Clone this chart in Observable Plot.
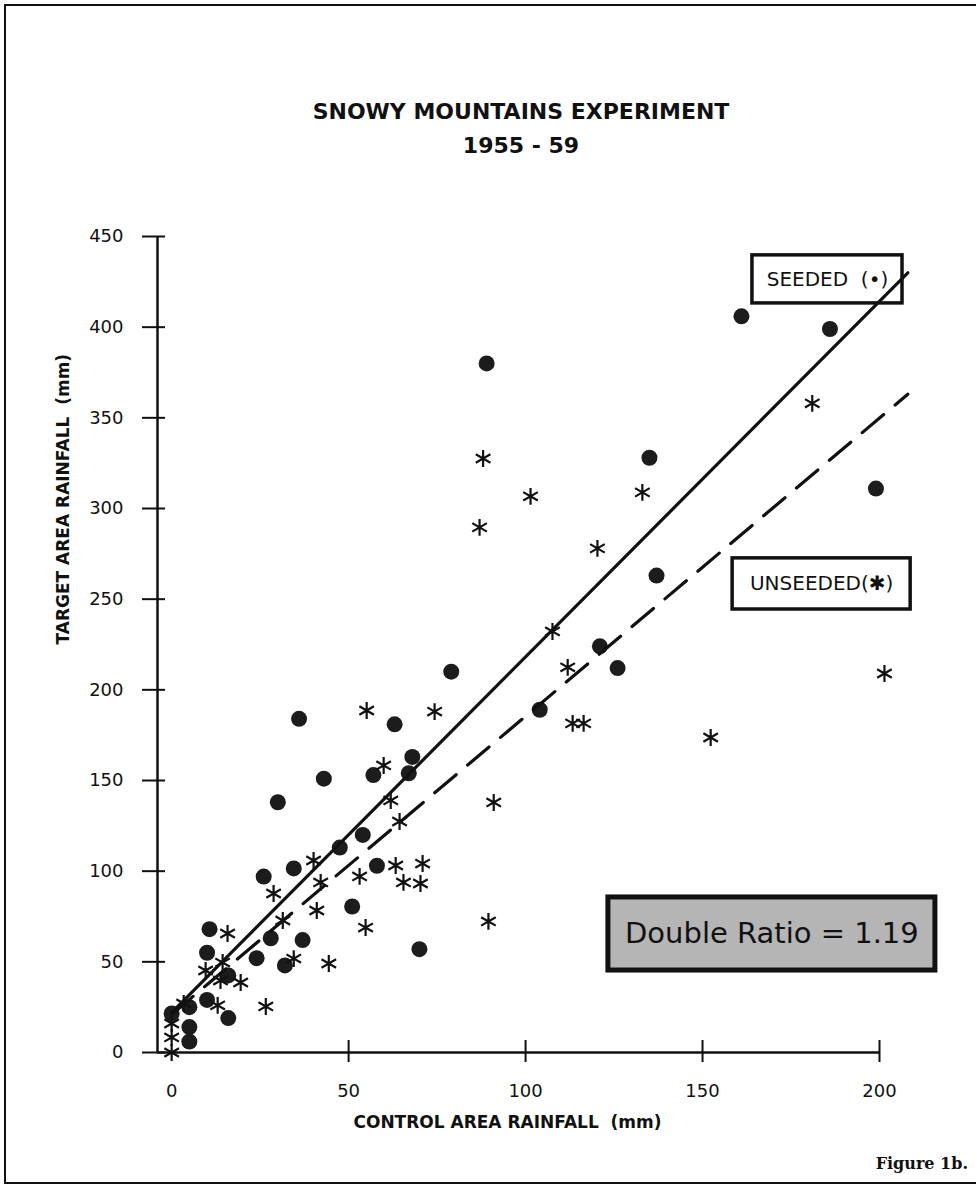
<!DOCTYPE html>
<html><head><meta charset="utf-8">
<script src="https://cdn.jsdelivr.net/npm/d3@7"></script>
<script src="https://cdn.jsdelivr.net/npm/@observablehq/plot@0.6"></script>
<style>
html,body{margin:0;padding:0;background:#fff;}
#page{position:relative;width:976px;height:1192px;overflow:hidden;font-family:"DejaVu Sans",sans-serif;color:#111;}
#frame{position:absolute;left:4px;top:4px;width:1000px;height:1180px;border:2px solid #111;box-sizing:border-box;pointer-events:none;}
#header{position:relative;height:180px;}
.t{position:absolute;left:521px;transform:translateX(-50%);font-weight:bold;white-space:nowrap;font-size:22px;line-height:22px;}
#t1{top:101px;}
#t2{top:135px;}
#chart svg{display:block;}
#footer{position:relative;height:42px;}
#fig{position:absolute;right:8px;top:6px;font-family:"DejaVu Serif",serif;font-weight:bold;font-size:16px;line-height:16px;}
</style></head>
<body>
<div id="page">
  <div id="frame"></div>
  <div id="header"><div class="t" id="t1">SNOWY MOUNTAINS EXPERIMENT</div><div class="t" id="t2">1955 - 59</div></div>
  <div id="chart"></div>
  <div id="footer"><div id="fig">Figure 1b.</div></div>
</div>
<script>
// Seeded cases (filled circles): [control rainfall, target rainfall] in mm
const seeded = [
  [161,406],[186,399],[199,311],[89,380],[135,328],[137,263],[121,224],[126,212],
  [79,210],[104,189],[36,184],[63,181],[43,151],[57,153],[68,163],[67,154],
  [30,138],[54,120],[47.5,113],[58,103],[26,97],[34.5,101.5],[51,80.5],[28,63],
  [37,62],[10.7,68],[10,55],[24,52],[32,48],[70,57],[16,42.5],[16,19],
  [5,14],[5,6],[0,21.5],[10,29],[5,25]
];
// Unseeded cases (asterisks)
const unseeded = [
  [181,358],[88,327.6],[101.4,306.7],[87,289.6],[133,308.9],[120.3,278],[107.6,232.2],
  [111.9,212.4],[113.3,181.5],[116.4,181.5],[152.3,173.7],[201.4,209],[55.1,188.6],
  [74.3,188],[59.9,158.3],[61.9,139],[64.4,127.4],[91,137.9],[40.1,105.9],[53.1,97.1],
  [42.1,93.8],[28.8,87.7],[41,78.3],[31.4,72.8],[54.8,68.9],[15.8,65.6],[34.5,51.8],
  [44.4,49.1],[26.6,25.4],[63.3,103.1],[70.9,104.2],[65.5,93.8],[70.3,93.2],[89.5,72.3],
  [14.4,49.6],[9.6,45.2],[19.5,38.6],[13.8,39.7],[3.4,27],[0,16],[0,8.3],[0,0],[13,26]
];
// Regression lines
const seededFit = [[0,22],[208,430]];
const unseededFit = [[0,21],[208,363]];
// Axes
const xTicks = [0,50,100,150,200];
const yTicks = [0,50,100,150,200,250,300,350,400,450];
const xDomain = [-4,200];
const yDomain = [0,450];
const xLabel = "CONTROL AREA RAINFALL  (mm)";
const yLabel = "TARGET AREA RAINFALL  (mm)";
// Annotation boxes (extent in data units)
const notes = [
  {label:"SEEDED  (•)", x1:164.1, x2:206.5, y1:413.1, y2:439.6},
  {label:"UNSEEDED(✱)", x1:158.5, x2:208.8, y1:244.3, y2:272.5},
  {label:"Double Ratio = 1.19", x1:123.4, x2:215.8, y1:45.2, y2:85.5}
];

const noteMarks = notes.flatMap((n, i) => {
  const big = i === 2;
  return [
    Plot.rect([n], {x1:"x1", x2:"x2", y1:"y1", y2:"y2", fill: big ? "#b5b5b5" : "#fff", stroke:"#111", strokeWidth: big ? 5 : 3.5}),
    Plot.text([n], {x: d => (d.x1+d.x2)/2, y: d => (d.y1+d.y2)/2, text:"label", fontSize: big ? 29 : 20, fill:"#111"})
  ];
});

const chart = Plot.plot({
  width: 976, height: 970,
  marginTop: 56, marginBottom: 98, marginLeft: 157, marginRight: 97,
  x: {domain: xDomain},
  y: {domain: yDomain},
  style: {fontFamily: "DejaVu Sans, sans-serif", color: "#111", background: "transparent", overflow: "visible"},
  marks: [
    Plot.ruleX([xDomain[0]], {stroke:"#111", strokeWidth:2.5}),
    Plot.ruleY([0], {stroke:"#111", strokeWidth:2.5}),
    Plot.axisY(yTicks, {tickSize:23, dx:8, tickFormat:() => "", label:null, strokeWidth:2}),
    Plot.axisY(yTicks, {tickSize:0, tickPadding:34, fontSize:18, label:null}),
    Plot.axisX(xTicks.slice(1), {tickSize:22, dy:-12, tickFormat:() => "", label:null, strokeWidth:2}),
    Plot.axisX(xTicks, {tickSize:0, tickPadding:32, fontSize:18, label:null}),
    Plot.text([yLabel], {frameAnchor:"left", dx:-94, rotate:-90, fontWeight:"bold", fontSize:17}),
    Plot.text([xLabel], {frameAnchor:"bottom", dx:-11, dy:75, fontWeight:"bold", fontSize:17}),
    ...noteMarks,
    Plot.dot(seeded, {x: d => d[0], y: d => d[1], r: 8, fill: "#1c1c1c"}),
    Plot.dot(unseeded, {x: d => d[0], y: d => d[1], r: 8, symbol: "asterisk", stroke: "#111", strokeWidth: 2.2}),
    Plot.line(seededFit, {x: d => d[0], y: d => d[1], stroke: "#111", strokeWidth: 3.2}),
    Plot.line(unseededFit, {x: d => d[0], y: d => d[1], stroke: "#111", strokeWidth: 3.2, strokeDasharray: "28,15"})
  ]
});
document.getElementById("chart").appendChild(chart);
</script>
</body></html>
